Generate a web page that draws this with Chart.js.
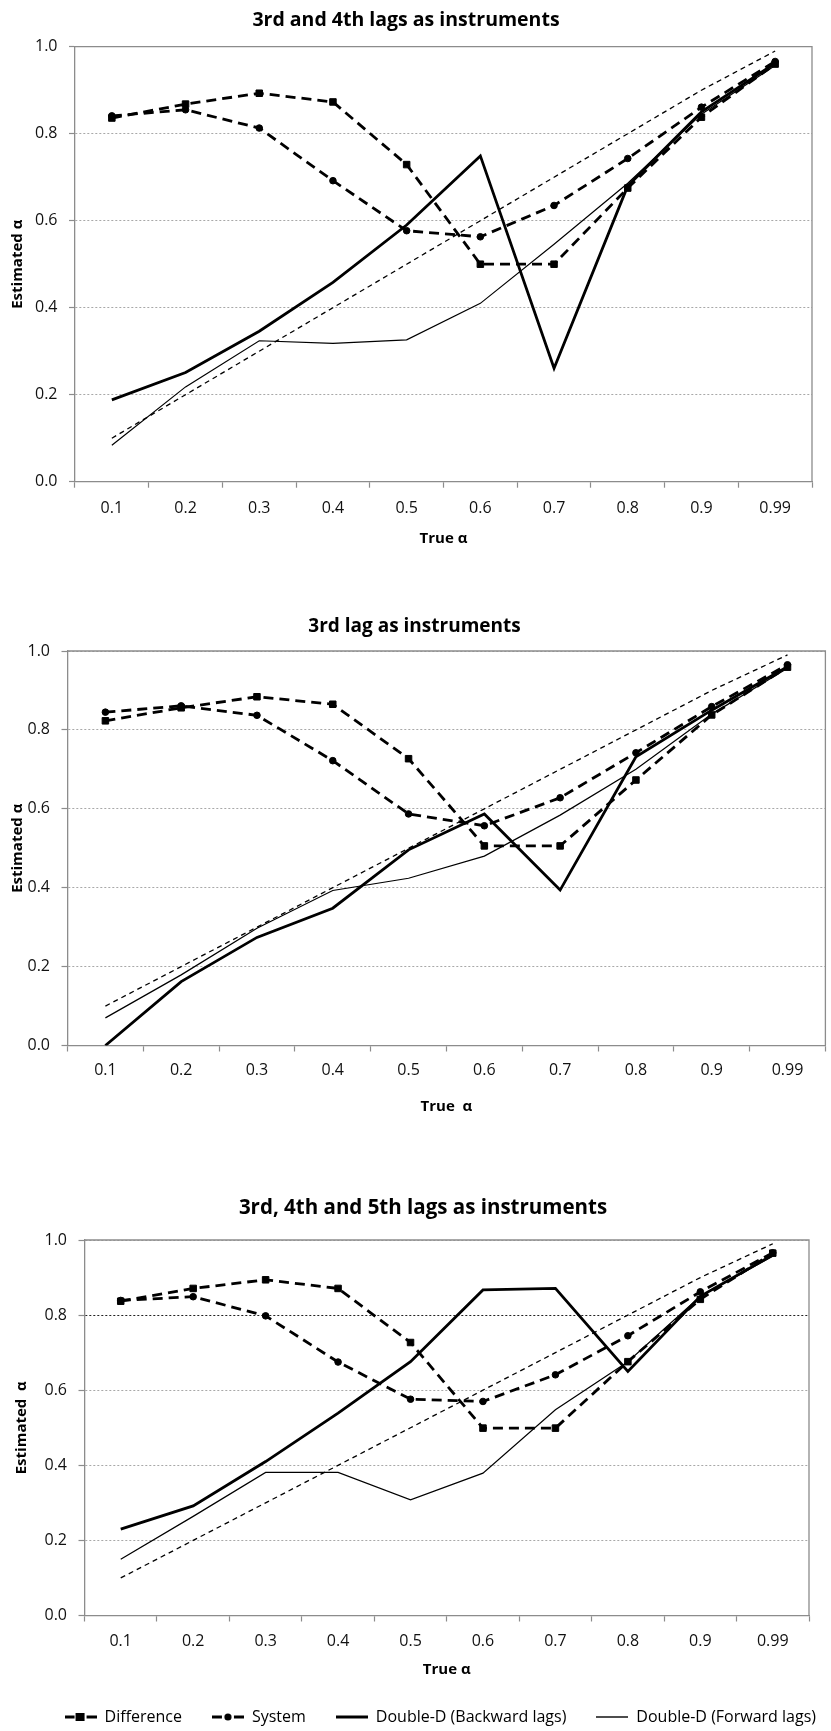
<!DOCTYPE html>
<html>
<head>
<meta charset="utf-8">
<script src="https://cdn.jsdelivr.net/npm/chart.js@4.4.1/dist/chart.umd.min.js"></script>
<style>
  html, body { margin: 0; padding: 0; background: #fff; overflow: hidden; }
  body { width: 831px; height: 1731px; position: relative; }
  .box { position: absolute; left: 0; }
</style>
</head>
<body>
<div class="box" style="top:0;width:831px;height:560px"><canvas id="c1"></canvas></div>
<div class="box" style="top:560px;width:831px;height:570px"><canvas id="c2"></canvas></div>
<div class="box" style="top:1130px;width:846px;height:605px"><canvas id="c3"></canvas></div>
<script>
  const labels = ["0.1", "0.2", "0.3", "0.4", "0.5", "0.6", "0.7", "0.8", "0.9", "0.99"];
  // 45 degree reference line (estimated = true)
  const trueAlpha = [0.1, 0.2, 0.3, 0.4, 0.5, 0.6, 0.7, 0.8, 0.9, 0.99];

  // 3rd and 4th lags
  const diff1 = [0.836, 0.868, 0.893, 0.873, 0.729, 0.5, 0.5, 0.675, 0.838, 0.96];
  const sys1 = [0.841, 0.855, 0.813, 0.692, 0.577, 0.563, 0.635, 0.743, 0.861, 0.966];
  const back1 = [0.188, 0.251, 0.346, 0.458, 0.59, 0.749, 0.261, 0.68, 0.85, 0.962];
  const fwd1 = [0.084, 0.218, 0.324, 0.318, 0.326, 0.41, 0.546, 0.686, 0.845, 0.957];

  // 3rd lag
  const diff2 = [0.823, 0.856, 0.884, 0.865, 0.727, 0.506, 0.506, 0.673, 0.838, 0.959];
  const sys2 = [0.845, 0.861, 0.837, 0.722, 0.587, 0.557, 0.628, 0.742, 0.859, 0.965];
  const back2 = [0.0, 0.162, 0.274, 0.348, 0.496, 0.587, 0.394, 0.732, 0.85, 0.96];
  const fwd2 = [0.07, 0.179, 0.297, 0.393, 0.424, 0.48, 0.584, 0.7, 0.84, 0.956];

  // 3rd, 4th and 5th lags
  const diff3 = [0.837, 0.871, 0.894, 0.871, 0.727, 0.499, 0.499, 0.676, 0.842, 0.965];
  const sys3 = [0.839, 0.849, 0.798, 0.675, 0.576, 0.57, 0.641, 0.745, 0.862, 0.966];
  const back3 = [0.23, 0.292, 0.41, 0.539, 0.676, 0.867, 0.871, 0.65, 0.85, 0.96];
  const fwd3 = [0.15, 0.264, 0.381, 0.381, 0.308, 0.379, 0.548, 0.676, 0.85, 0.957];

  const axisGrey = "#8c8c8c",
    gridGrey = "#a8a8a8",
    family = "'Open Sans', 'DejaVu Sans', sans-serif";

  // legend icons: line with marker, like the spreadsheet legend
  function icon(kind) {
    const c = document.createElement("canvas");
    c.width = 32;
    c.height = 12;
    const g = c.getContext("2d");
    g.strokeStyle = "#000";
    g.fillStyle = "#000";
    g.lineWidth = kind == "fwd" ? 1.4 : 3;
    g.beginPath();
    if (kind == "diff" || kind == "sys") {
      g.moveTo(0, 6);
      g.lineTo(10, 6);
      g.moveTo(22, 6);
      g.lineTo(32, 6);
    } else {
      g.moveTo(0, 6);
      g.lineTo(32, 6);
    }
    g.stroke();
    if (kind == "diff") g.fillRect(11, 2, 9, 8);
    if (kind == "sys") {
      g.beginPath();
      g.arc(16, 6, 3.6, 0, Math.PI * 2);
      g.fill();
    }
    return c;
  }
  const icons = [icon("diff"), icon("sys"), icon("back"), icon("fwd")];

  // top and right edge of the plot box
  const framePlugin = {
    id: "frame",
    beforeDatasetsDraw(chart) {
      const { ctx, chartArea: a } = chart;
      ctx.save();
      ctx.strokeStyle = axisGrey;
      ctx.lineWidth = 1.3;
      ctx.beginPath();
      ctx.moveTo(a.left, a.top);
      ctx.lineTo(a.right, a.top);
      ctx.lineTo(a.right, a.bottom);
      ctx.stroke();
      ctx.restore();
    },
  };

  function makeChart(id, s, o) {
    const scales = {
      x: {
        type: "category",
        offset: true,
        grid: {
          display: true,
          drawOnChartArea: false,
          drawTicks: true,
          tickLength: 6,
          offset: true,
          color: axisGrey,
          tickColor: axisGrey,
          tickWidth: 1.2,
        },
        border: { display: true, color: axisGrey, width: 1.3 },
        ticks: {
          color: "#111",
          font: { family: family, size: 16 },
          padding: o.xTickPad,
          maxRotation: 0,
          autoSkip: false,
        },
        title: {
          display: true,
          text: o.xTitle,
          color: "#000",
          font: { family: family, size: 15, weight: "bold" },
          padding: { top: 0, bottom: o.xTitlePad },
        },
        afterFit: (sc) => {
          sc.height = o.xHeight;
        },
      },
      y: {
        min: 0,
        max: 1,
        ticks: {
          stepSize: 0.2,
          color: "#111",
          font: { family: family, size: 16 },
          padding: 11.5,
          callback: (v) => v.toFixed(1),
        },
        grid: {
          color: (c) =>
            o.darkLine != null && c.tick && Math.abs(c.tick.value - o.darkLine) < 1e-6
              ? "#222"
              : gridGrey,
          lineWidth: 1,
          drawTicks: true,
          tickLength: 6,
          tickColor: axisGrey,
          tickWidth: 1.2,
          tickBorderDash: [],
        },
        border: { display: true, color: axisGrey, width: 1.3, dash: [2, 2] },
        title: {
          display: true,
          text: o.yTitle,
          color: "#000",
          font: { family: family, size: 15, weight: "bold" },
          padding: { top: o.yTitlePad, bottom: 0 },
        },
        afterFit: (sc) => {
          sc.width = o.yWidth;
        },
      },
    };
    if (o.rightGap) {
      scales.y2 = {
        type: "linear",
        position: "right",
        display: true,
        min: 0,
        max: 1,
        ticks: { display: false },
        grid: { display: false, drawTicks: false },
        border: { display: false },
        afterFit: (sc) => {
          sc.width = o.rightGap;
        },
      };
    }

    const config = {
      type: "line",
      data: {
        labels: labels,
        datasets: [
          {
            label: "Difference",
            data: s.diff,
            borderColor: "#000",
            backgroundColor: "#000",
            borderWidth: 2.8,
            borderDash: [10, 6],
            pointStyle: "rect",
            pointRadius: 4.6,
            pointBorderWidth: 1,
            pointBackgroundColor: "#000",
            pointBorderColor: "#000",
          },
          {
            label: "System",
            data: s.sys,
            borderColor: "#000",
            backgroundColor: "#000",
            borderWidth: 2.8,
            borderDash: [10, 6],
            pointStyle: "circle",
            pointRadius: 3.3,
            pointBorderWidth: 1,
            pointBackgroundColor: "#000",
            pointBorderColor: "#000",
          },
          {
            label: "Double-D (Backward lags)",
            data: s.back,
            borderColor: "#000",
            backgroundColor: "#000",
            borderWidth: 2.8,
            pointRadius: 0,
          },
          {
            label: "Double-D (Forward lags)",
            data: s.fwd,
            borderColor: "#000",
            backgroundColor: "#000",
            borderWidth: 1.2,
            pointRadius: 0,
          },
          {
            label: "True α",
            data: trueAlpha,
            borderColor: "#000",
            borderWidth: 1.3,
            borderDash: [5, 4],
            pointRadius: 0,
          },
        ],
      },
      options: {
        responsive: true,
        maintainAspectRatio: false,
        animation: false,
        events: [],
        layout: { padding: { left: 0, right: o.padRight, top: 0, bottom: 0 } },
        elements: { line: { tension: 0 } },
        scales: scales,
        plugins: {
          title: {
            display: true,
            text: o.title,
            color: "#000",
            font: { family: family, size: o.titleSize, weight: "bold" },
            padding: o.titlePad,
          },
          legend: {
            display: !!o.legend,
            position: "bottom",
            align: "end",
            labels: {
              usePointStyle: true,
              pointStyleWidth: 32,
              padding: 30,
              color: "#000",
              font: { family: family, size: 16 },
              filter: (it) => it.datasetIndex < 4,
              generateLabels: (ch) =>
                Chart.defaults.plugins.legend.labels
                  .generateLabels(ch)
                  .map((it) => Object.assign(it, { pointStyle: icons[it.datasetIndex] })),
            },
          },
          tooltip: { enabled: false },
        },
      },
      plugins: [framePlugin],
    };
    return new Chart(document.getElementById(id), config);
  }

  makeChart(
    "c1",
    { diff: diff1, sys: sys1, back: back1, fwd: fwd1 },
    {
      title: "3rd and 4th lags as instruments",
      titleSize: 19.5,
      xTitle: "True α",
      yTitle: "Estimated α",
      titlePad: { top: 8.3, bottom: 15 },
      padRight: 19,
      yWidth: 75,
      xHeight: 78.3,
      xTickPad: 10.7,
      xTitlePad: 12,
      yTitlePad: 9,
    }
  );

  makeChart(
    "c2",
    { diff: diff2, sys: sys2, back: back2, fwd: fwd2 },
    {
      title: "3rd lag as instruments",
      titleSize: 19,
      xTitle: "True  α",
      yTitle: "Estimated α",
      titlePad: { top: 55.6, bottom: 12.6 },
      padRight: 2,
      yWidth: 67.5,
      xHeight: 84.5,
      xTickPad: 8.9,
      xTitlePad: 14,
      yTitlePad: 9,
    }
  );

  makeChart(
    "c3",
    { diff: diff3, sys: sys3, back: back3, fwd: fwd3 },
    {
      title: "3rd, 4th and 5th lags as instruments",
      titleSize: 20.5,
      xTitle: "True α",
      yTitle: "Estimated  α",
      titlePad: { top: 65.7, bottom: 19.7 },
      padRight: 0,
      rightGap: 37,
      yWidth: 84.5,
      xHeight: 63.5,
      xTickPad: 9.9,
      xTitlePad: 0,
      yTitlePad: 13,
      darkLine: 0.8,
      legend: true,
    }
  );
</script>
</body>
</html>
